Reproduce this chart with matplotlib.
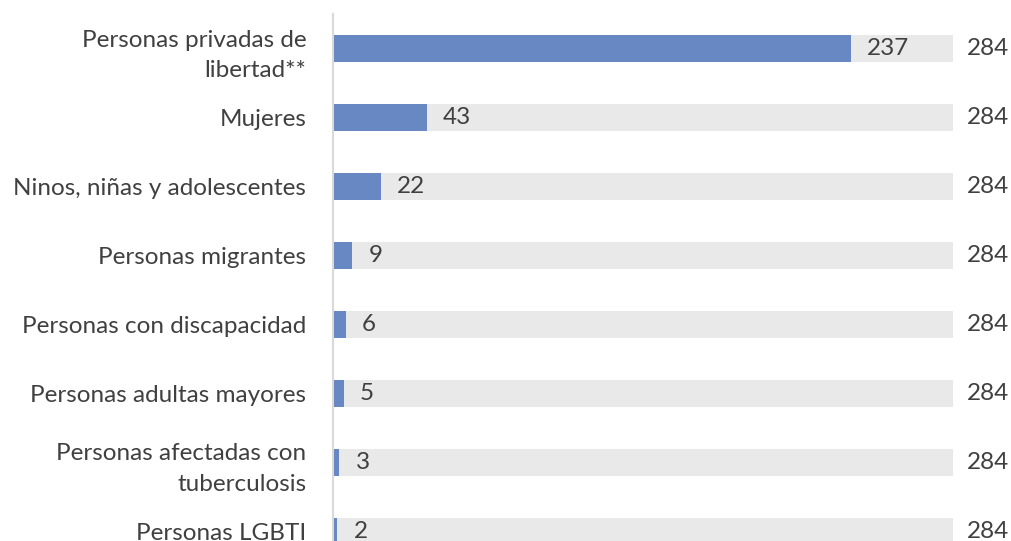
import matplotlib
matplotlib.use('Agg')
import matplotlib.pyplot as plt

# data
categories = ["Personas privadas de\nlibertad**", "Mujeres", "Ninos, niñas y adolescentes",
              "Personas migrantes", "Personas con discapacidad", "Personas adultas mayores",
              "Personas afectadas con\ntuberculosis", "Personas LGBTI"]
values = [237, 43, 22, 9, 6, 5, 3, 2]
totals = [284, 284, 284, 284, 284, 284, 284, 284]

plt.rcParams['font.family'] = ['Lato', 'DejaVu Sans']
text_color = "#404040"
fs = 17.5

fig = plt.figure(figsize=(10.11, 5.41), dpi=100)
ax = fig.add_axes([0.329, -0.046, 0.614, 1.020])

pos = list(range(len(categories)))
ax.barh(pos, totals, height=0.4, color="#E9E9E9")
ax.barh(pos, values, height=0.4, color="#6788C2")

for y, v, t in zip(pos, values, totals):
    ax.text(v + 7.5, y, str(v), va='center', ha='left', fontsize=fs, color=text_color)
    ax.text(t + 6.2, y, str(t), va='center', ha='left', fontsize=fs, color=text_color)

ax.set_xlim(0, 284)
ax.set_ylim(len(categories) - 0.5, -0.5)
ax.set_yticks(pos)
ax.set_yticklabels(categories, fontsize=fs, color=text_color, ha='right', linespacing=1.55)
ax.tick_params(axis='y', length=0, pad=19)
ax.set_xticks([])
for s in ['top', 'right', 'bottom']:
    ax.spines[s].set_visible(False)
ax.spines['left'].set_color("#D9D9D9")
ax.spines['left'].set_linewidth(1.5)

fig.savefig("out.png", dpi=100)
